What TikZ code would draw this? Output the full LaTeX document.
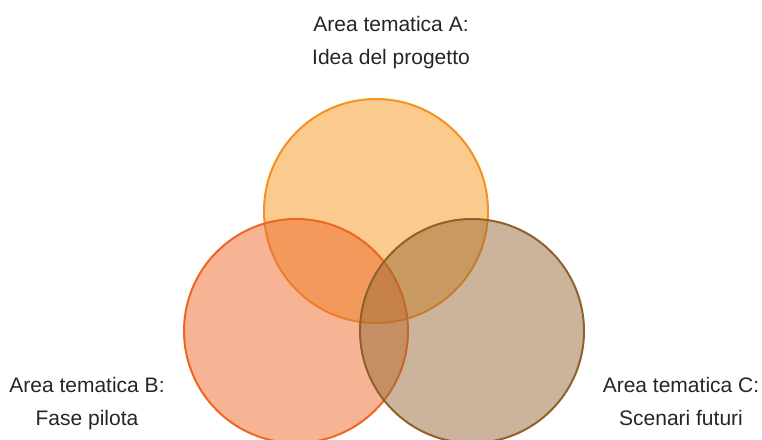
\documentclass[tikz,border=0pt]{standalone}
\usepackage{fontspec}
\setmainfont{Liberation Sans}
\usepackage{tikz}

\definecolor{ringA}{HTML}{F7981E}
\definecolor{ringB}{HTML}{ED692B}
\definecolor{ringC}{HTML}{976937}
\definecolor{lineA}{HTML}{F39125}
\definecolor{lineB}{HTML}{EE6621}
\definecolor{lineC}{HTML}{8E6229}
\definecolor{labtext}{HTML}{262626}

\begin{document}
\begin{tikzpicture}[x=1pt,y=1pt,
  font=\fontsize{21}{33}\selectfont]
  \tikzstyle{every area}=[circle,minimum size=224pt,inner sep=0pt,line width=2pt,fill opacity=0.5]
  \tikzstyle{area label}=[text=labtext,align=center,anchor=north,inner sep=0pt]

  \useasboundingbox (0,0) rectangle (762,439);

  \node[every area,fill=ringA,draw=lineA] (A) at (376,228) {};
  \node[every area,fill=ringB,draw=lineB] (B) at (296,108) {};
  \node[every area,fill=ringC,draw=lineC] (C) at (472,108) {};

  \node[area label] (labA) at (391,422.5) {Area tematica A:\\Idea del progetto};
  \node[area label] (labB) at (87,61.5)   {Area tematica B:\\Fase pilota};
  \node[area label] (labC) at (681,61.5)  {Area tematica C:\\Scenari futuri};
\end{tikzpicture}
\end{document}
